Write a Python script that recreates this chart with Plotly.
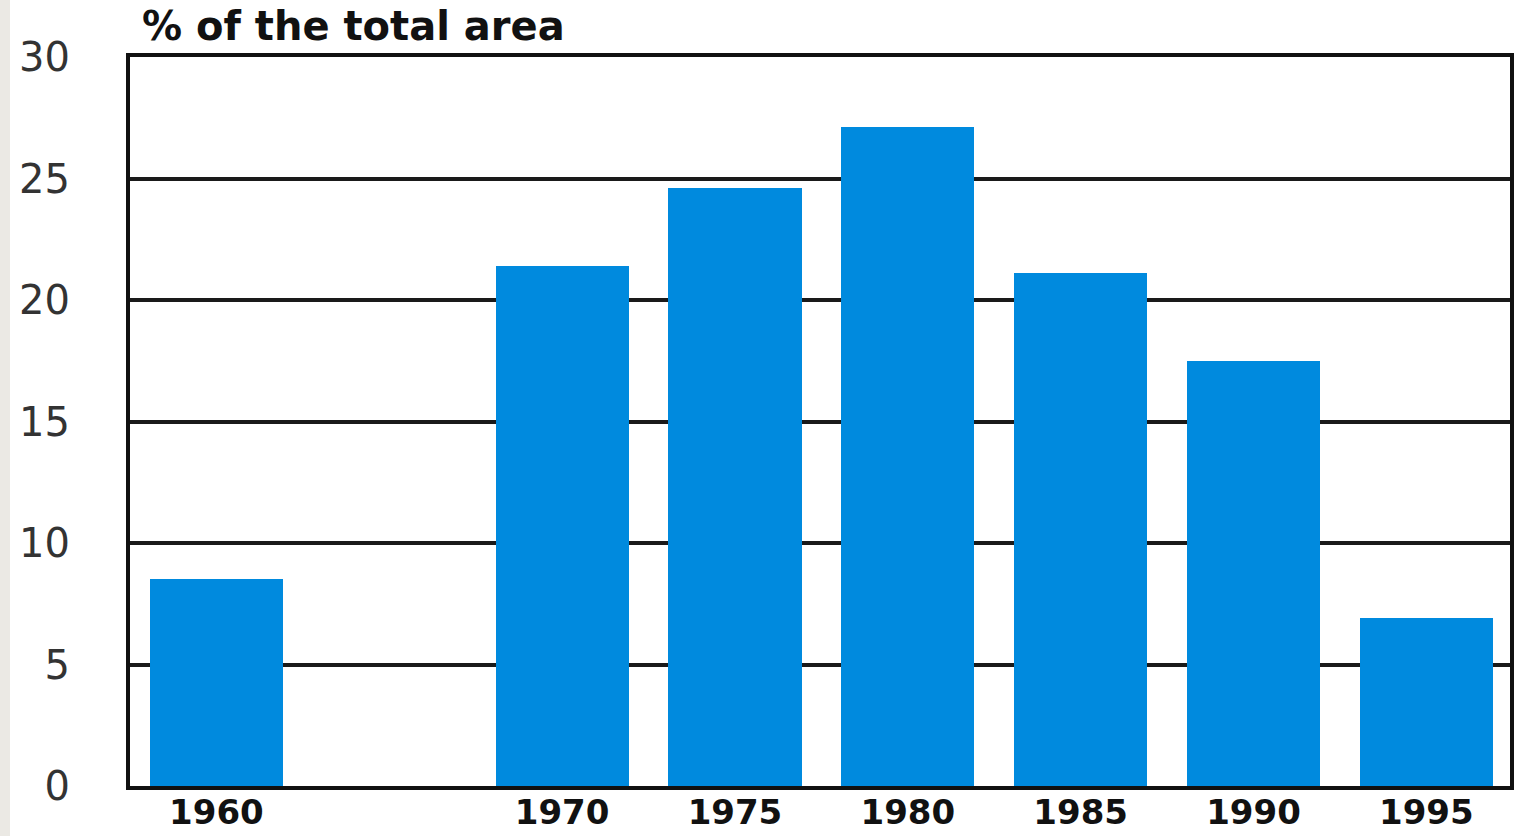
import plotly.graph_objects as go

# Share of the total area by year (%)
years = [1960, 1970, 1975, 1980, 1985, 1990, 1995]
share = [8.5, 21.4, 24.6, 27.1, 21.1, 17.5, 6.9]
year_labels = ["1960", "1970", "1975", "1980", "1985", "1990", "1995"]
y_ticks = [0, 5, 10, 15, 20, 25, 30]

W, H = 1519, 836
L, R, T, B = 130, 9, 57, 50

fig = go.Figure(
    go.Bar(
        x=years,
        y=share,
        width=3.85,
        marker=dict(color="#008ade", line=dict(width=0)),
        hoverinfo="x+y",
    )
)

fig.update_layout(
    width=W,
    height=H,
    margin=dict(l=L, r=R, t=T, b=B, pad=0, autoexpand=False),
    paper_bgcolor="white",
    plot_bgcolor="white",
    showlegend=False,
    bargap=0,
)

fig.update_xaxes(
    range=[1957.5, 1997.42],
    tickmode="array",
    tickvals=years,
    ticktext=year_labels,
    showgrid=False,
    zeroline=False,
    showline=True,
    mirror=True,
    linecolor="#111111",
    linewidth=4,
    ticks="",
    automargin=False,
    ticklabelstandoff=-7,
    tickfont=dict(family="DejaVu Sans", size=34, color="#111111", weight="bold"),
)

fig.update_yaxes(
    range=[0, 30],
    tickmode="array",
    tickvals=y_ticks,
    showgrid=True,
    gridcolor="#1a1a1a",
    gridwidth=3.5,
    zeroline=False,
    showline=True,
    mirror=True,
    linecolor="#111111",
    linewidth=4,
    ticks="",
    automargin=False,
    ticklabelstandoff=48,
    tickfont=dict(family="DejaVu Sans", size=40, color="#333333"),
)

fig.add_annotation(
    text="% of the total area",
    xref="paper",
    yref="paper",
    x=10 / (W - L - R),
    y=1.0,
    xanchor="left",
    yanchor="bottom",
    yshift=6,
    showarrow=False,
    font=dict(family="DejaVu Sans", size=40, color="#111111", weight="bold"),
)

# light grey strip along the left edge of the page
fig.add_shape(
    type="rect",
    xref="paper",
    yref="paper",
    x0=-L / (W - L - R),
    x1=(10 - L) / (W - L - R),
    y0=-B / (H - T - B),
    y1=1 + T / (H - T - B),
    fillcolor="#ebe9e4",
    line=dict(width=0),
    layer="below",
)

fig.write_html("out.html")
